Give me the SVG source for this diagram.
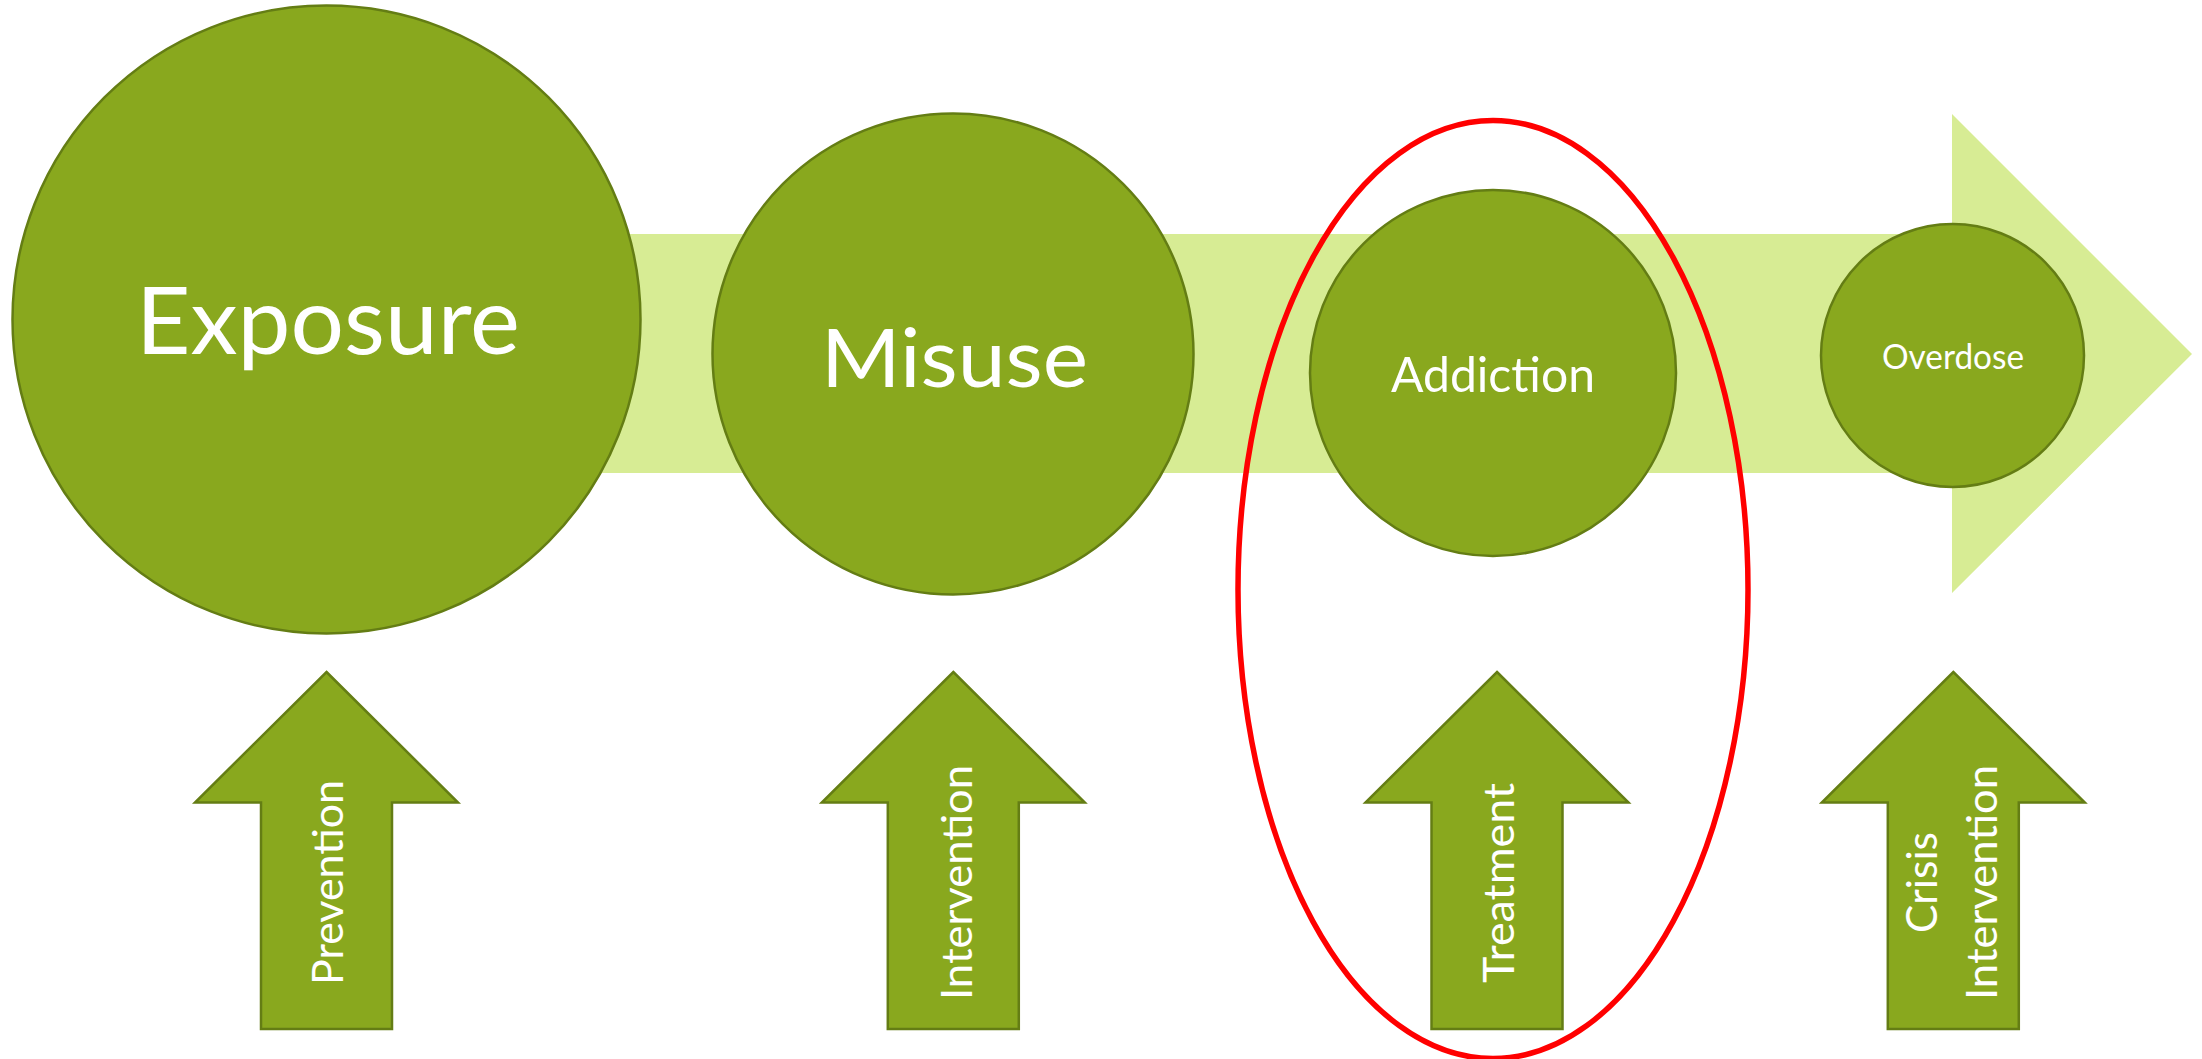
<svg xmlns="http://www.w3.org/2000/svg" width="2202" height="1059" viewBox="0 0 2202 1059">
<style>
.node{fill:#89A81E;stroke:#647D14;stroke-width:2.5}
.lbl{fill:#FFFFFF;font-family:Lato,"Open Sans","Liberation Sans",sans-serif;text-anchor:middle}
.up{font-size:42px}
</style>
<defs>
<path id="uparrow" d="M0,0 L131.5,130.5 L65.5,130.5 L65.5,357 L-65.5,357 L-65.5,130.5 L-131.5,130.5 Z"/>
</defs>
<rect width="2202" height="1059" fill="#FFFFFF"/>
<g id="connectors">
<path id="timeline" d="M326,234 H1952 V114 L2192,354 L1952,593 V473 H326 Z" fill="#D7EC94"/>
</g>
<g id="exposure">
<circle class="node" cx="326.5" cy="319.5" r="314"/>
<text class="lbl" x="328" y="354" font-size="93" textLength="384" lengthAdjust="spacingAndGlyphs">Exposure</text>
</g>
<g id="misuse">
<circle class="node" cx="953" cy="354" r="240.5"/>
<text class="lbl" x="954.5" y="387" font-size="82" textLength="267" lengthAdjust="spacingAndGlyphs">Misuse</text>
</g>
<g id="addiction">
<circle class="node" cx="1493" cy="373" r="183"/>
<text class="lbl" x="1493" y="392" font-size="49" textLength="204" lengthAdjust="spacingAndGlyphs">Addiction</text>
</g>
<g id="overdose">
<circle class="node" cx="1952.5" cy="355.5" r="131.5"/>
<text class="lbl" x="1953" y="368.5" font-size="35" textLength="142" lengthAdjust="spacingAndGlyphs">Overdose</text>
</g>
<g id="prevention">
<use href="#uparrow" class="node" x="326.5" y="672"/>
<text class="lbl up" transform="translate(343,882.5) rotate(-90)" textLength="205" lengthAdjust="spacingAndGlyphs">Prevention</text>
</g>
<g id="intervention">
<use href="#uparrow" class="node" x="953.3" y="672"/>
<text class="lbl up" transform="translate(971.5,882.5) rotate(-90)" textLength="235" lengthAdjust="spacingAndGlyphs">Intervention</text>
</g>
<g id="treatment">
<use href="#uparrow" class="node" x="1497" y="672"/>
<text class="lbl up" transform="translate(1514,883) rotate(-90)" textLength="200" lengthAdjust="spacingAndGlyphs">Treatment</text>
</g>
<g id="crisis-intervention">
<use href="#uparrow" class="node" x="1953.3" y="672"/>
<text class="lbl up" transform="translate(1937,882.5) rotate(-90)" textLength="101" lengthAdjust="spacingAndGlyphs">Crisis</text>
<text class="lbl up" transform="translate(1996.5,882.5) rotate(-90)" textLength="235" lengthAdjust="spacingAndGlyphs">Intervention</text>
</g>
<g id="highlight">
<ellipse cx="1493" cy="589.5" rx="255" ry="469" fill="none" stroke="#FF0000" stroke-width="5.5"/>
</g>
</svg>
